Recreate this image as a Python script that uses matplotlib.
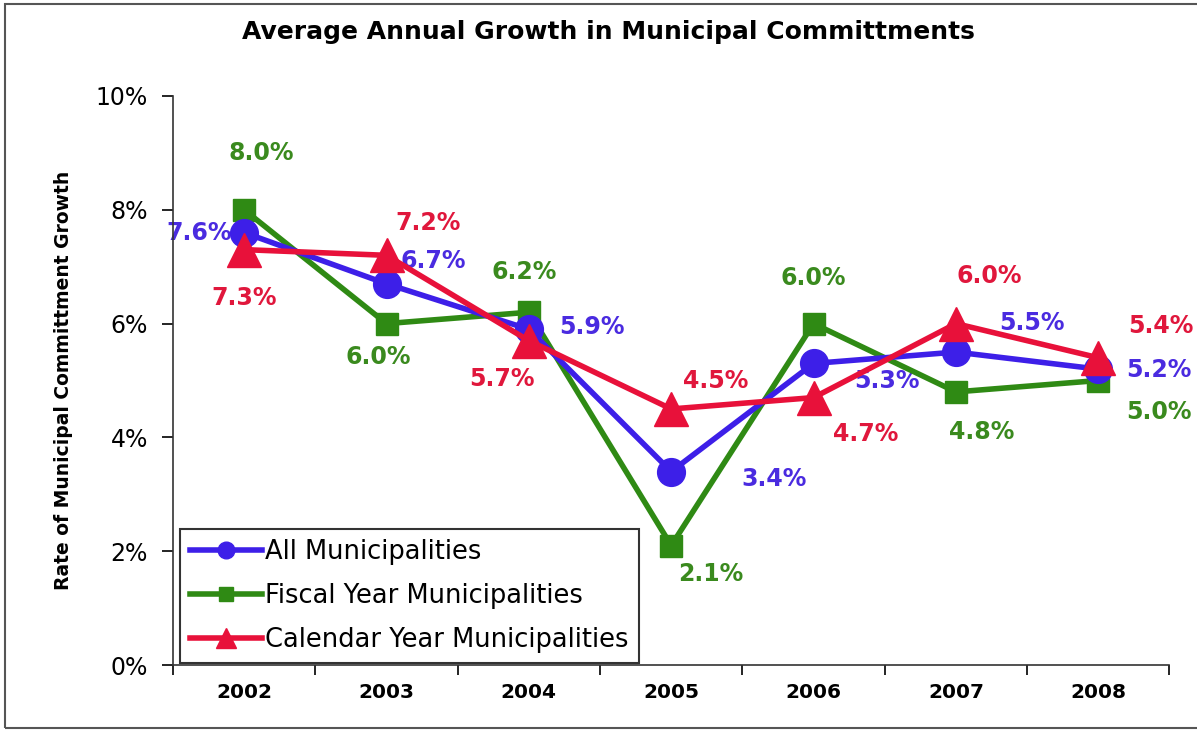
import matplotlib
matplotlib.use('Agg')
import matplotlib.pyplot as plt
from matplotlib.patches import Rectangle
from matplotlib.ticker import FixedLocator, FuncFormatter

# data
years = ['2002', '2003', '2004', '2005', '2006', '2007', '2008']
all_muni = [7.6, 6.7, 5.9, 3.4, 5.3, 5.5, 5.2]
fiscal_muni = [8.0, 6.0, 6.2, 2.1, 6.0, 4.8, 5.0]
calendar_muni = [7.3, 7.2, 5.7, 4.5, 4.7, 6.0, 5.4]

# label offsets in pixels (dx, dy)
all_off = [(-45, 0), (47, 23), (63, 2), (103, -7), (73, -18), (76, 29), (61, -1)]
fiscal_off = [(17, 57), (-8, -33), (-5, 40), (40, -28), (0, 46), (26, -40), (61, -31)]
calendar_off = [(0, -48), (42, 32), (-27, -38), (44, 28), (52, -36), (33, 48), (63, 32)]

blue = '#3d1fe8'
green = '#2f8a14'
red = '#e8113a'

plt.rcParams['font.family'] = ['DejaVu Sans']

fig = plt.figure(figsize=(11.97, 7.3), dpi=100)
ax = fig.add_axes([0.1445, 0.089, 0.8325, 0.7795])

x = list(range(len(years)))

ax.plot(x, fiscal_muni, color=green, lw=4, marker='s', ms=16, label='Fiscal Year Municipalities', zorder=3)
ax.plot(x, all_muni, color=blue, lw=4, marker='o', ms=20, label='All Municipalities', zorder=4)
ax.plot(x, calendar_muni, color=red, lw=4, marker='^', ms=24, label='Calendar Year Municipalities', zorder=5)

for vals, offs, col in [(all_muni, all_off, '#4a2be0'),
                        (fiscal_muni, fiscal_off, '#3a8a1e'),
                        (calendar_muni, calendar_off, '#e0173c')]:
    for xi, v, (dx, dy) in zip(x, vals, offs):
        ax.annotate('{:.1f}%'.format(v), xy=(xi, v), xytext=(dx, dy),
                    textcoords='offset pixels', ha='center', va='center',
                    color=col, fontsize=17, fontweight='bold', zorder=2)

ax.set_xlim(-0.5, 6.5)
ax.set_ylim(0, 10)
ax.set_xticks(x)
ax.set_xticklabels(years, fontsize=14.5, fontweight='bold')
ax.xaxis.set_minor_locator(FixedLocator([i - 0.5 for i in range(len(years) + 1)]))
ax.tick_params(axis='x', which='major', length=0, pad=13)
ax.tick_params(axis='x', which='minor', length=7, width=1.2)
ax.set_yticks([0, 2, 4, 6, 8, 10])
ax.yaxis.set_major_formatter(FuncFormatter(lambda v, p: '{:.0f}%'.format(v)))
ax.tick_params(axis='y', labelsize=17, length=8, width=1.2, pad=10)

for s in ['top', 'right']:
    ax.spines[s].set_visible(False)
for s in ['left', 'bottom']:
    ax.spines[s].set_linewidth(1.2)
    ax.spines[s].set_color('#333333')

ax.set_ylabel('Rate of Municipal Committment Growth', fontsize=13.5, fontweight='bold', labelpad=16)

handles, labels = ax.get_legend_handles_labels()
order = [1, 0, 2]
leg = ax.legend([handles[i] for i in order], [labels[i] for i in order],
                loc='lower left', bbox_to_anchor=(7 / 997, 2 / 569), borderaxespad=0,
                fontsize=18.5, frameon=True, fancybox=False, edgecolor='black',
                handlelength=2.8, handletextpad=0.1, borderpad=0.4,
                labelspacing=0.7, markerscale=0.6)
leg.get_frame().set_linewidth(1.5)

fig.text(0.508, 0.956, 'Average Annual Growth in Municipal Committments',
         ha='center', va='center', fontsize=18, fontweight='bold')

# outer border
fig.patches.append(Rectangle((5 / 1197, 2 / 730), 1.0, 724 / 730, transform=fig.transFigure,
                             fill=False, edgecolor='#555555', lw=1.5))

fig.savefig('out.png', dpi=100)
